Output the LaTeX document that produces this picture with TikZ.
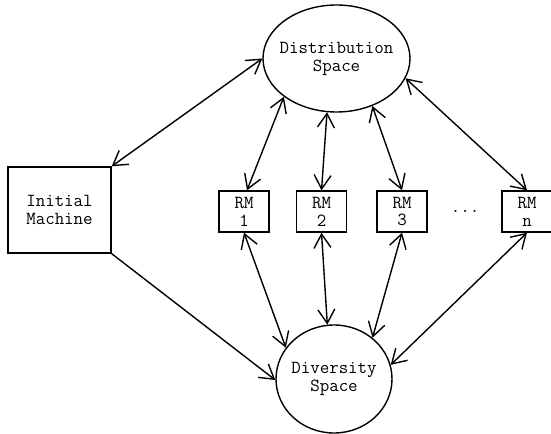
\documentclass[tikz,border=0pt]{standalone}
\usetikzlibrary{arrows.meta,shapes.geometric}

\tikzset{
  txt/.style={font=\ttfamily\fontsize{18.5}{18}\selectfont, align=center, inner sep=0pt},
  base/.style={txt, draw, line width=1.4pt},
  space/.style={base, ellipse},
  machine/.style={base, rectangle, minimum width=103bp, minimum height=86bp},
  rmbox/.style={base, rectangle, minimum width=50bp, minimum height=41bp},
  link/.style={line width=1.4pt, {Straight Barb[length=14pt,width=17pt]}-{Straight Barb[length=14pt,width=17pt]}},
  oneway/.style={line width=1.4pt, -{Straight Barb[length=14pt,width=17pt]}}
}

\begin{document}
\begin{tikzpicture}[x=1bp, y=-1bp]
  \useasboundingbox (0,0) rectangle (551,434);

  % the two spaces
  \node[space, minimum width=147bp, minimum height=107bp,
        label={[txt]center:{Distribution\\Space}}] (dist) at (336.5,58.5) {};
  \node[space, minimum width=116bp, minimum height=108bp,
        label={[txt]center:{Diversity\\Space}}] (div) at (334,379) {};

  % starting machine
  \node[machine] (init) at (59.5,210) {Initial\\Machine};

  % the RM boxes
  \node[rmbox] (rm1) at (244,211.5) {RM\\1};
  \node[rmbox] (rm2) at (321.5,211.5) {RM\\2};
  \node[rmbox] (rm3) at (402,211.5) {RM\\3};
  \node[rmbox] (rmn) at (527,211.5) {RM\\n};
  \node[txt] (dots) at (465,211) {...};

  % connectors
  \draw[link] (init.north east) -- (dist.180);
  \draw[oneway] (init.south east) -- (div.181);

  \draw[link] ([xshift=3bp]rm1.north) -- (dist.216);
  \draw[link] (rm2.north) -- (dist.260);
  \draw[link] (rm3.north) -- (dist.307);
  \draw[link] (rmn.north) -- (dist.344);

  \draw[link] (rm1.south) -- (div.147);
  \draw[link] (rm2.south) -- (div.97);
  \draw[link] (rm3.south) -- (div.47);
  \draw[link] (rmn.south) -- (div.14);
\end{tikzpicture}
\end{document}
